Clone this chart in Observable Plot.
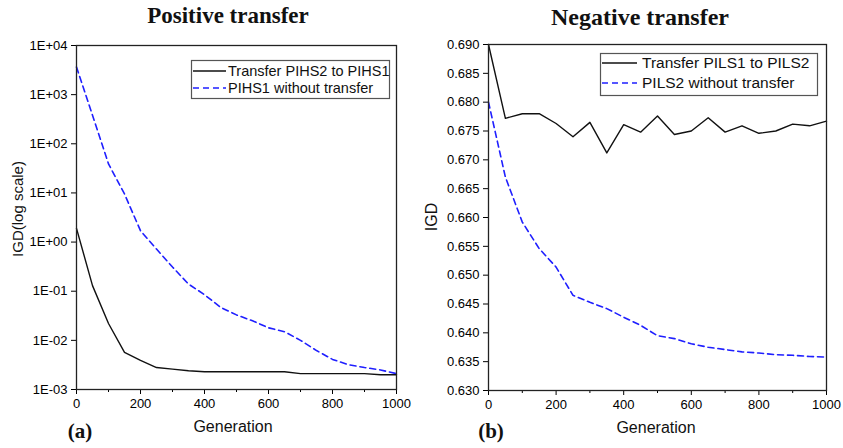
<!DOCTYPE html>
<html><head><meta charset="utf-8">
<script src="https://cdn.jsdelivr.net/npm/d3@7"></script>
<script src="https://cdn.jsdelivr.net/npm/@observablehq/plot@0.6"></script>
<style>
body{margin:0;background:#fff;}
#wrap{position:relative;width:843px;height:448px;background:#fff;overflow:hidden;font-family:"Liberation Sans",Arial,sans-serif;color:#111;}
.abs{position:absolute;white-space:nowrap;transform:translate(-50%,-50%);line-height:1;}
.title{font-family:"Liberation Serif","Times New Roman",serif;font-weight:bold;}
.plot{position:absolute;top:0;}
</style></head>
<body><div id="wrap"></div>
<script>
// ---- data ----
const generations = [0,50,100,150,200,250,300,350,400,450,500,550,600,650,700,750,800,850,900,950,1000];
// Panel (a) Positive transfer (IGD, log scale)
const posTransfer = [1.9,0.13,0.022,0.0057,0.0039,0.0028,0.0026,0.0024,0.0023,0.0023,0.0023,0.0023,0.0023,0.0023,0.0021,0.0021,0.0021,0.0021,0.0021,0.0020,0.0020];
const posNoTransfer = [3630,380,39,9.5,1.7,0.72,0.31,0.14,0.085,0.047,0.033,0.025,0.018,0.015,0.010,0.0062,0.0041,0.0032,0.0028,0.0025,0.0021];
// Panel (b) Negative transfer (IGD)
const negTransfer = [0.690,0.6772,0.6780,0.6780,0.6763,0.6740,0.6765,0.6712,0.6761,0.6748,0.6776,0.6744,0.6750,0.6773,0.6748,0.6759,0.6746,0.6750,0.6762,0.6759,0.6767];
const negNoTransfer = [0.6800,0.6670,0.6592,0.6546,0.6514,0.6465,0.6453,0.6442,0.6427,0.6413,0.6395,0.6390,0.6381,0.6375,0.6371,0.6367,0.6365,0.6362,0.6361,0.6359,0.6358];
const legendA = ["Transfer PIHS2 to PIHS1","PIHS1 without transfer"];
const legendB = ["Transfer PILS1 to PILS2","PILS2 without transfer"];
const xMajor = [0,200,400,600,800,1000];
const xMinor = [100,300,500,700,900];
const yTicksA = [1e-3,1e-2,1e-1,1,10,100,1000,10000];
const yTicksB = [0.630,0.635,0.640,0.645,0.650,0.655,0.660,0.665,0.670,0.675,0.680,0.685,0.690];

const blue = "#1f1fff";
const rows = (ys) => generations.map((g,i)=>({g, v: ys[i]}));
const fmtE = d => { const e = Math.round(Math.log10(d)); return "1E" + (e>=0?"+":"-") + String(Math.abs(e)).padStart(2,"0"); };
const fmtX = d => String(d);

const common = (w) => ({width:w, height:448, style:{fontFamily:"'Liberation Sans',Arial,sans-serif", fontSize:"13px", color:"#000", background:"transparent"}});

const plotA = Plot.plot({
  ...common(421),
  marginLeft:76, marginRight:25, marginTop:45, marginBottom:59,
  x:{domain:[0,1000]},
  y:{type:"log", domain:[1e-3,1e4]},
  marks:[
    Plot.axisX({ticks:xMajor, tickSize:5, tickPadding:4, tickFormat:fmtX, label:null, fontSize:13}),
    Plot.axisX({ticks:xMinor, tickSize:3, tickFormat:()=>"", label:null}),
    Plot.axisY({ticks:yTicksA, tickSize:5, tickPadding:4, tickFormat:fmtE, label:null, fontSize:13}),
    Plot.line(rows(posNoTransfer), {x:"g", y:"v", stroke:blue, strokeWidth:1.6, strokeDasharray:"6,4"}),
    Plot.line(rows(posTransfer), {x:"g", y:"v", stroke:"#111", strokeWidth:1.4}),
    Plot.frame({stroke:"#222", strokeWidth:1.3})
  ]
});
plotA.classList.add("plot"); plotA.style.left="0px";

const plotB = Plot.plot({
  ...common(422),
  marginLeft:67, marginRight:17, marginTop:44, marginBottom:58,
  x:{domain:[0,1000]},
  y:{domain:[0.630,0.690]},
  marks:[
    Plot.axisX({ticks:xMajor, tickSize:5, tickPadding:4, tickFormat:fmtX, label:null, fontSize:13}),
    Plot.axisX({ticks:xMinor, tickSize:3, tickFormat:()=>"", label:null}),
    Plot.axisY({ticks:yTicksB, tickSize:5, tickPadding:4, tickFormat:d3.format(".3f"), label:null, fontSize:13}),
    Plot.line(rows(negNoTransfer), {x:"g", y:"v", stroke:blue, strokeWidth:1.6, strokeDasharray:"6,4"}),
    Plot.line(rows(negTransfer), {x:"g", y:"v", stroke:"#111", strokeWidth:1.4}),
    Plot.frame({stroke:"#222", strokeWidth:1.3})
  ]
});
plotB.classList.add("plot"); plotB.style.left="421px";

const wrap = document.getElementById("wrap");
wrap.appendChild(plotA); wrap.appendChild(plotB);

function label(text, x, y, css, cls){
  const d = document.createElement("div");
  d.className = "abs " + (cls||"");
  d.textContent = text;
  d.style.left = x+"px"; d.style.top = y+"px";
  Object.assign(d.style, css||{});
  wrap.appendChild(d);
}
label("Positive transfer", 228, 15, {fontSize:"23px"}, "title");
label("Negative transfer", 640, 17, {fontSize:"24px"}, "title");
label("(a)", 80, 431, {fontSize:"21px"}, "title");
label("(b)", 491, 431, {fontSize:"21px"}, "title");
label("Generation", 233, 427, {fontSize:"16px"});
label("Generation", 656, 428, {fontSize:"16px"});
label("IGD(log scale)", 17, 209, {fontSize:"15px", transform:"translate(-50%,-50%) rotate(-90deg)"});
label("IGD", 432, 217, {fontSize:"16px", transform:"translate(-50%,-50%) rotate(-90deg)"});

// legends
const svg = d3.select(wrap).append("svg").attr("width",843).attr("height",448)
  .style("position","absolute").style("left","0").style("top","0").style("pointer-events","none");
function legend(names, box, rowsY, lx0, lx1, tx, fs){
  svg.append("rect").attr("x",box[0]+0.5).attr("y",box[1]+0.5).attr("width",box[2]).attr("height",box[3])
    .attr("fill","#fff").attr("stroke","#555").attr("stroke-width",1.2);
  names.forEach((n,i)=>{
    svg.append("line").attr("x1",lx0).attr("x2",lx1).attr("y1",rowsY[i]).attr("y2",rowsY[i])
      .attr("stroke", i===0 ? "#111" : blue).attr("stroke-width", i===0?1.4:1.6)
      .attr("stroke-dasharray", i===0 ? null : "6,4");
    svg.append("text").attr("x",tx).attr("y",rowsY[i]).attr("dy","0.35em")
      .attr("font-family","'Liberation Sans',Arial,sans-serif").attr("font-size",fs).attr("fill","#111").text(n);
  });
}
legend(legendA, [191,60,198,38], [71,88], 193, 226, 228, 14.5);
legend(legendB, [600,53,217,42], [63,83], 602, 637, 642, 15.5);
</script></body></html>
